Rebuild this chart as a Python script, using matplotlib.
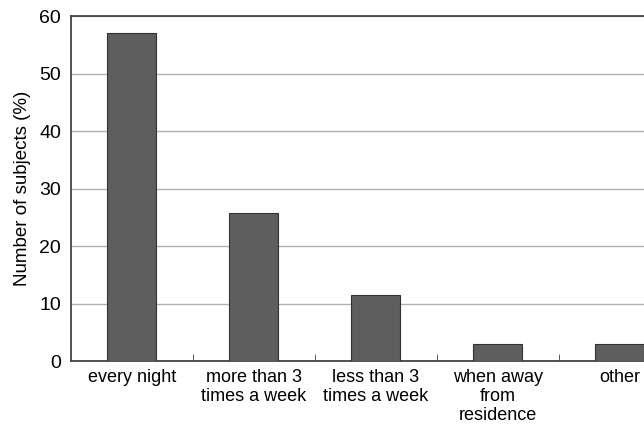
import numpy as np
import matplotlib.pyplot as plt

plt.rcParams['font.family'] = ['Liberation Sans', 'DejaVu Sans']

categories = ["every night", "more than 3\ntimes a week", "less than 3\ntimes a week",
              "when away\nfrom\nresidence", "other"]
percent = [57.0, 25.7, 11.5, 3.0, 3.0]

fig = plt.figure(figsize=(6.44, 4.33), dpi=100)
# axes run past the right edge, as in the cropped original
ax = fig.add_axes([0.110, 0.166, 0.947, 0.797])

x = np.arange(len(categories))
ax.bar(x, percent, width=0.4, color='#5e5e5e', edgecolor='#333333', linewidth=0.8, zorder=3)

ax.set_xlim(-0.5, len(categories) - 0.5)
ax.set_ylim(0, 60)
ax.set_yticks(np.arange(0, 61, 10))
ax.yaxis.grid(True, color='#b0b0b0', linewidth=1.0, zorder=0)
ax.tick_params(axis='y', length=0, labelsize=14, pad=7)

# category labels centred, ticks at category boundaries
ax.set_xticks(x)
ax.set_xticklabels(categories, fontsize=13, linespacing=1.15)
ax.tick_params(axis='x', length=0, pad=6)
ax.set_xticks(np.arange(0.5, len(categories) - 0.5, 1), minor=True)
ax.tick_params(axis='x', which='minor', direction='in', length=5, color='#444444')

for s in ax.spines.values():
    s.set_color('#444444')
    s.set_linewidth(1.3)

ax.set_ylabel("Number of subjects (%)", fontsize=13.5, labelpad=6)

plt.savefig("out.png", dpi=100)
